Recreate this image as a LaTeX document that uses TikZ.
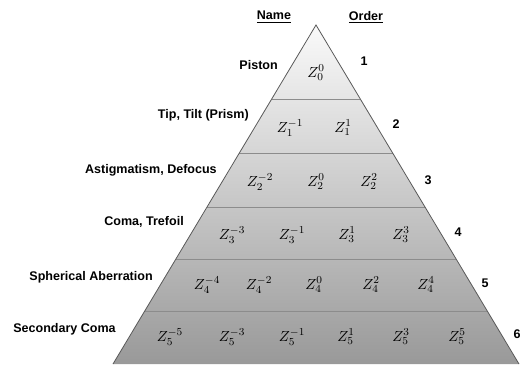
\documentclass[tikz,border=0pt]{standalone}
\usepackage{fontspec}
\setmainfont{Liberation Sans}
\usetikzlibrary{positioning}

\begin{document}
\begin{tikzpicture}[
  x=0.75pt,y=-0.75pt,
  boldtext/.style={font=\fontsize{9.4}{11}\selectfont\bfseries,inner sep=0pt},
  aberr/.style={boldtext,anchor=east},
  zterm/.style={font=\fontsize{11}{13}\selectfont,inner sep=0pt},
  level/.style={draw=black!45,line width=0.6pt}
]
\useasboundingbox (0,0) rectangle (524,364);
\coordinate (apex) at (316,25);
\coordinate (bl) at (113,364);
\coordinate (br) at (519,364);
\shade[top color=black!2,bottom color=black!40] (apex)--(br)--(bl)--cycle;
\draw[level] (271.6,99)--(360.4,99);
\draw[level] (239.2,153)--(392.8,153);
\draw[level] (206.8,207)--(425.2,207);
\draw[level] (175.6,259)--(456.4,259);
\draw[level] (144.4,311)--(487.6,311);
\draw[black!65,line width=0.6pt] (bl)--(apex)--(br);
% headings
\node[boldtext] (hname) at (274,17) {\underline{Name}};
\node[boldtext] (horder) at (366,17) {\underline{Order}};
% names
\node[aberr] (piston) at (278,65) {Piston};
\node[aberr] (tilt) at (249,115) {Tip, Tilt (Prism)};
\node[aberr] (astig) at (217,170) {Astigmatism, Defocus};
\node[aberr] (coma) at (184,222) {Coma, Trefoil};
\node[aberr] (spher) at (153,277) {Spherical Aberration};
\node[aberr] (scoma) at (116,329) {Secondary Coma};
% orders
\node[boldtext] (o1) at (364,61) {1};
\node[boldtext] (o2) at (396,124) {2};
\node[boldtext] (o3) at (428,180) {3};
\node[boldtext] (o4) at (458,232) {4};
\node[boldtext] (o5) at (485,283) {5};
\node[boldtext] (o6) at (517,334) {6};
% terms
\node[zterm] (z00) at (316,73) {$Z_0^0$};
\node[zterm] (z1m1) at (290,128) {$Z_1^{-1}$};
\node[zterm] (z11) at (343,128) {$Z_1^1$};
\node[zterm] (z2m2) at (260,182) {$Z_2^{-2}$};
\node[zterm] (z20) at (316,182) {$Z_2^0$};
\node[zterm] (z22) at (369,182) {$Z_2^2$};
\node[zterm] (z3m3) at (232,235) {$Z_3^{-3}$};
\node[zterm] (z3m1) at (292,235) {$Z_3^{-1}$};
\node[zterm] (z31) at (347,235) {$Z_3^1$};
\node[zterm] (z33) at (401,235) {$Z_3^3$};
\node[zterm] (z4m4) at (207,285) {$Z_4^{-4}$};
\node[zterm] (z4m2) at (259,285) {$Z_4^{-2}$};
\node[zterm] (z40) at (314,285) {$Z_4^0$};
\node[zterm] (z42) at (371,285) {$Z_4^2$};
\node[zterm] (z44) at (426,285) {$Z_4^4$};
\node[zterm] (z5m5) at (170,337) {$Z_5^{-5}$};
\node[zterm] (z5m3) at (232,337) {$Z_5^{-3}$};
\node[zterm] (z5m1) at (292,337) {$Z_5^{-1}$};
\node[zterm] (z51) at (346,337) {$Z_5^1$};
\node[zterm] (z53) at (401,337) {$Z_5^3$};
\node[zterm] (z55) at (457,337) {$Z_5^5$};
\end{tikzpicture}
\end{document}
